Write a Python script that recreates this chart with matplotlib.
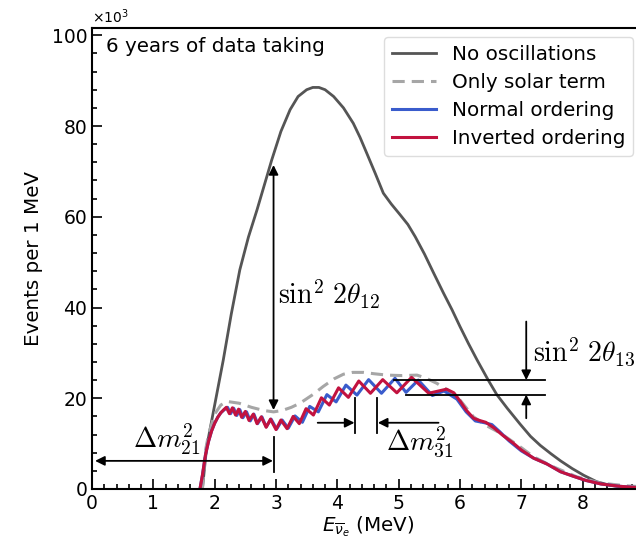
import matplotlib
matplotlib.use('Agg')
import matplotlib.pyplot as plt
from matplotlib.ticker import MultipleLocator

# energies in MeV, events in units of 10^3 per MeV
e_noosc = [1.80, 1.87, 2.00, 2.14, 2.27, 2.41, 2.55, 2.69, 2.81, 2.93, 3.08, 3.23, 3.36,
           3.50, 3.60, 3.70, 3.80, 3.94, 4.10, 4.26, 4.37, 4.48, 4.62, 4.75, 4.88, 5.02,
           5.15, 5.27, 5.42, 5.57, 5.73, 5.87, 6.00, 6.14, 6.28, 6.46, 6.60, 6.77, 6.98,
           7.15, 7.31, 7.48, 7.64, 7.83, 8.02, 8.23, 8.45, 8.70, 9.00, 9.20]
v_noosc = [0.0, 9.3, 18.5, 28.4, 38.5, 48.3, 55.5, 61.5, 67.0, 72.5, 78.8, 83.6, 86.5,
           88.0, 88.5, 88.5, 88.0, 86.5, 84.0, 80.6, 77.5, 74.0, 69.5, 65.2, 62.8, 60.5,
           58.3, 55.6, 51.8, 47.6, 43.2, 39.5, 35.8, 32.0, 28.4, 24.0, 20.8, 17.8, 14.3,
           11.6, 9.6, 7.8, 6.2, 4.5, 3.0, 1.6, 0.8, 0.3, 0.1, 0.05]

e_solar = [1.80, 1.85, 1.90, 2.00, 2.10, 2.20, 2.40, 2.60, 2.80, 2.96, 3.10, 3.25, 3.39,
           3.60, 3.77, 3.95, 4.10, 4.25, 4.43, 4.60, 4.81, 5.05, 5.30, 5.45, 5.62, 5.80,
           6.00, 6.22, 6.44, 6.66, 6.98, 7.20, 7.52, 7.90, 8.29, 8.72, 9.20]
v_solar = [0.0, 8.5, 12.0, 16.5, 18.5, 19.3, 18.9, 18.0, 17.3, 17.0, 17.3, 18.0, 18.9,
           20.8, 22.6, 24.3, 25.3, 25.7, 25.7, 25.4, 25.1, 25.0, 25.1, 24.4, 23.3, 21.8,
           19.6, 15.9, 13.9, 12.3, 9.3, 7.1, 4.9, 2.7, 1.3, 0.7, 0.3]

e_normal = [1.76, 1.80, 1.85, 1.90, 1.95, 2.00, 2.05, 2.10, 2.15,
            2.21, 2.26, 2.31, 2.36, 2.41, 2.46, 2.52, 2.58, 2.64, 2.70, 2.77, 2.84,
            2.92, 3.01, 3.10, 3.20, 3.31, 3.43, 3.55, 3.69, 3.83, 3.98, 4.14, 4.32,
            4.51, 4.72, 4.94, 5.12, 5.32, 5.55, 5.74, 5.95, 6.10, 6.25, 6.40, 6.52,
            6.65, 6.80, 7.00, 7.20, 7.42, 7.64, 7.85, 8.05, 8.30, 8.60, 8.90, 9.20]
v_normal = [0.0, 3.0, 7.5, 10.5, 12.8, 14.5, 15.8, 16.8, 17.4,
            18.0, 16.6, 17.8, 16.2, 17.5, 15.7, 17.0, 15.0, 16.5, 14.4, 15.9, 13.7,
            15.4, 13.2, 15.2, 13.4, 16.1, 14.7, 18.2, 17.0, 20.8, 19.2, 22.9, 20.7,
            24.1, 21.1, 24.4, 21.3, 24.0, 20.6, 21.6, 19.8, 17.0, 15.0, 14.6, 14.2,
            12.6, 10.6, 8.4, 6.8, 5.5, 3.8, 2.8, 1.9, 1.1, 0.6, 0.3, 0.1]

e_inverted = [1.76, 1.80, 1.85, 1.90, 1.95, 2.00, 2.05, 2.10, 2.15,
              2.19, 2.24, 2.29, 2.34, 2.39, 2.44, 2.50, 2.56, 2.63, 2.69, 2.76, 2.84,
              2.91, 3.00, 3.08, 3.18, 3.28, 3.38, 3.49, 3.61, 3.74, 3.87, 4.02, 4.18,
              4.35, 4.54, 4.74, 4.97, 5.21, 5.49, 5.78, 5.90, 6.00, 6.10, 6.22, 6.32,
              6.42, 6.55, 6.70, 6.87, 7.00, 7.20, 7.42, 7.64, 7.85, 8.05, 8.30, 8.60,
              8.90, 9.20]
v_inverted = [0.0, 3.0, 7.5, 10.5, 12.8, 14.5, 15.8, 16.8, 17.5,
              18.0, 16.6, 17.9, 16.3, 17.6, 15.8, 17.1, 15.1, 16.5, 14.4, 15.9, 13.6,
              15.4, 13.1, 15.2, 13.3, 16.0, 14.4, 17.7, 16.3, 20.1, 18.5, 22.3, 20.2,
              23.8, 21.1, 24.1, 21.2, 24.6, 21.1, 22.0, 21.2, 19.4, 17.4, 15.6, 15.1,
              14.7, 13.5, 11.8, 10.1, 8.6, 6.8, 5.5, 3.8, 2.8, 1.9, 1.1, 0.6,
              0.3, 0.1]

series_labels = ['No oscillations', 'Only solar term', 'Normal ordering', 'Inverted ordering']

plt.rcParams['font.family'] = 'DejaVu Sans'

fig = plt.figure(figsize=(6.36, 5.37), dpi=100)
# the original figure is cropped on the right and at the bottom
ax = fig.add_axes([92 / 636, 48 / 537, 552 / 636, 461 / 537])

ax.plot(e_noosc, v_noosc, color='#555555', lw=2.0, label=series_labels[0])
ax.plot(e_solar, v_solar, color='#a6a6a6', lw=2.2, ls=(0, (4, 2.3)), label=series_labels[1])
ax.plot(e_normal, v_normal, color='#3a5ccc', lw=2.2, solid_joinstyle='round',
        label=series_labels[2])
ax.plot(e_inverted, v_inverted, color='#c2123f', lw=2.2, solid_joinstyle='round',
        label=series_labels[3])

ax.set_xlim(0, 9)
ax.set_ylim(0, 101.6)
ax.xaxis.set_major_locator(MultipleLocator(1))
ax.xaxis.set_minor_locator(MultipleLocator(0.2))
ax.yaxis.set_major_locator(MultipleLocator(20))
ax.yaxis.set_minor_locator(MultipleLocator(4))
ax.tick_params(which='both', direction='in', labelsize=13.5, width=1.2)
ax.tick_params(which='major', length=7)
ax.tick_params(which='minor', length=3.5)
for sp in ax.spines.values():
    sp.set_linewidth(1.5)

ax.set_ylabel('Events per 1 MeV', fontsize=14.3, labelpad=6)
ax.set_xlabel(r'$E_{\overline{\nu}_e}$ (MeV)', fontsize=14.3, labelpad=1)
ax.text(0.0, 1.005, r'$\times10^3$', transform=ax.transAxes, fontsize=10, va='bottom')
ax.text(0.025, 0.96, '6 years of data taking', transform=ax.transAxes,
        fontsize=14.3, va='center')

leg = ax.legend(loc='upper right', bbox_to_anchor=(0.98, 0.98), borderaxespad=0,
                fontsize=14.3, handlelength=2.2, labelspacing=0.45,
                framealpha=1, edgecolor='#dddddd')

arrow = dict(arrowstyle='-|>', color='black', lw=1.3, shrinkA=0, shrinkB=0,
             mutation_scale=14)
arrow2 = dict(arrow, arrowstyle='<|-|>')
math_kw = dict(fontsize=20, math_fontfamily='cm', va='center')

# sin^2 2theta12
ax.annotate('', xy=(2.96, 71.4), xytext=(2.96, 17.4), arrowprops=arrow2)
ax.plot([2.96, 2.96], [3.8, 11.5], color='black', lw=1.3)
ax.text(3.04, 43, r'$\sin^2\, 2\theta_{12}$', **math_kw)

# delta m^2_21
ax.annotate('', xy=(0.05, 6.2), xytext=(2.95, 6.2), arrowprops=arrow2)
ax.text(1.22, 11.0, r'$\Delta m^2_{21}$', ha='center', **math_kw)

# delta m^2_31
ax.plot([4.28, 4.28], [12.3, 20.0], color='black', lw=1.3)
ax.plot([4.65, 4.65], [12.3, 20.0], color='black', lw=1.3)
ax.annotate('', xy=(4.28, 14.6), xytext=(3.68, 14.6), arrowprops=arrow)
ax.annotate('', xy=(4.66, 14.6), xytext=(5.65, 14.6), arrowprops=arrow)
ax.text(5.35, 10.2, r'$\Delta m^2_{31}$', ha='center', **math_kw)

# sin^2 2theta13
ax.plot([4.92, 7.39], [24.0, 24.0], color='black', lw=1.3)
ax.plot([5.12, 7.39], [20.8, 20.8], color='black', lw=1.3)
ax.annotate('', xy=(7.08, 24.0), xytext=(7.08, 36.9), arrowprops=arrow)
ax.annotate('', xy=(7.08, 20.8), xytext=(7.08, 15.6), arrowprops=arrow)
ax.text(7.19, 30.3, r'$\sin^2\, 2\theta_{13}$', **math_kw)

fig.savefig('out.png', dpi=100)
